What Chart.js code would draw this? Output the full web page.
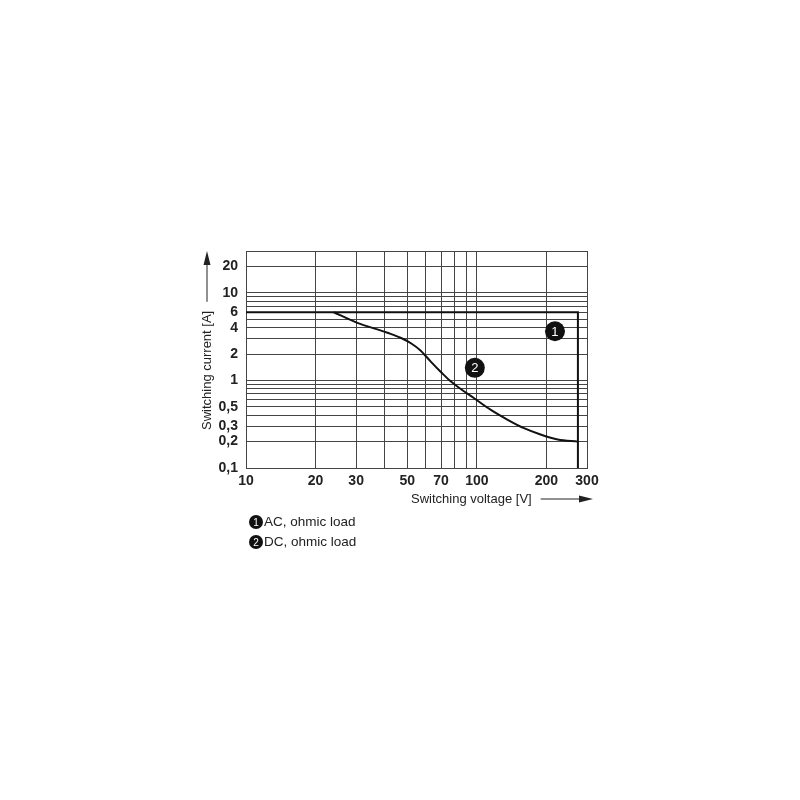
<!DOCTYPE html>
<html>

<head>
  <title>Switching current vs voltage</title>
  <script src="https://cdn.jsdelivr.net/npm/chart.js"></script>
  <style>
    body {
      margin: 0;
      background-color: #ffffff;
      font-family: "Liberation Sans", Arial, sans-serif;
    }

    #box {
      width: 800px;
      height: 800px;
    }
  </style>
</head>

<body>
  <div id="box">
    <canvas id="grafico" width="800" height="800"></canvas>
  </div>

  <script>
    // tick values (grid) and which ones get a label
    var xTicks = [10, 20, 30, 40, 50, 60, 70, 80, 90, 100, 200, 300];
    var xLabels = [10, 20, 30, 50, 70, 100, 200, 300];
    var yTicks = [0.1, 0.2, 0.3, 0.4, 0.5, 0.6, 0.7, 0.8, 0.9, 1, 2, 3, 4, 5, 6, 7, 8, 9, 10, 20, 30];
    var yLabels = [0.1, 0.2, 0.3, 0.5, 1, 2, 4, 6, 10, 20];

    // curve 1: AC, ohmic load
    var acVolt = [10, 274, 274];
    var acAmp = [6, 6, 0.1];

    // curve 2: DC, ohmic load
    var dcVolt = [24, 30, 41, 47, 52, 57, 63, 70, 77, 84, 97, 115, 136, 160, 190, 224, 274];
    var dcAmp = [6.0, 4.6, 3.5, 3.05, 2.64, 2.2, 1.65, 1.24, 0.975, 0.82, 0.63, 0.46, 0.355, 0.285, 0.24, 0.212, 0.2];

    // numbered markers
    var markNum = ["1", "2"];
    var markVolt = [218, 98];
    var markAmp = [3.64, 1.39];

    var legendText = ["AC, ohmic load", "DC, ohmic load"];

    var corGrade = "#444444";
    var fonte = '"Liberation Sans", Arial, sans-serif';

    function pontos(xs, ys) {
      var lista = [];
      for (var i = 0; i < xs.length; i++) {
        lista.push({ x: xs[i], y: ys[i] });
      }
      return lista;
    }

    function virgula(v) {
      return String(v).replace(".", ",");
    }

    function bolinha(ctx, x, y, r, txt, tam) {
      ctx.beginPath();
      ctx.arc(x, y, r, 0, Math.PI * 2);
      ctx.fillStyle = "#111111";
      ctx.fill();
      ctx.fillStyle = "#ffffff";
      ctx.font = tam + "px " + fonte;
      ctx.textAlign = "center";
      ctx.textBaseline = "middle";
      ctx.fillText(txt, x, y + 1);
    }

    var extras = {
      id: "extras",
      afterDatasetsDraw(chart) {
        var ctx = chart.ctx;
        var sx = chart.scales.x;
        var sy = chart.scales.y;
        var area = chart.chartArea;
        ctx.save();

        // numbered markers on the curves
        for (var i = 0; i < markNum.length; i++) {
          bolinha(ctx, sx.getPixelForValue(markVolt[i]), sy.getPixelForValue(markAmp[i]), 10, markNum[i], 13);
        }

        ctx.fillStyle = "#222222";
        ctx.strokeStyle = "#222222";
        ctx.lineWidth = 1;

        // x axis title + arrow
        ctx.font = "13px " + fonte;
        ctx.textAlign = "left";
        ctx.textBaseline = "middle";
        var tx = "Switching voltage [V]";
        var xt = 411;
        var yt = area.bottom + 31;
        ctx.fillText(tx, xt, yt);
        var fimTx = xt + ctx.measureText(tx).width;
        ctx.beginPath();
        ctx.moveTo(fimTx + 9, yt);
        ctx.lineTo(582, yt);
        ctx.stroke();
        ctx.beginPath();
        ctx.moveTo(593, yt);
        ctx.lineTo(579, yt - 3.5);
        ctx.lineTo(579, yt + 3.5);
        ctx.closePath();
        ctx.fill();

        // y axis title + arrow
        var ty = "Switching current [A]";
        var xa = 207;
        ctx.save();
        ctx.translate(xa, 430);
        ctx.rotate(-Math.PI / 2);
        ctx.textAlign = "left";
        ctx.fillText(ty, 0, 0);
        var larg = ctx.measureText(ty).width;
        ctx.restore();
        ctx.beginPath();
        ctx.moveTo(xa, 430 - larg - 9);
        ctx.lineTo(xa, 262);
        ctx.stroke();
        ctx.beginPath();
        ctx.moveTo(xa, 251);
        ctx.lineTo(xa - 3.5, 265);
        ctx.lineTo(xa + 3.5, 265);
        ctx.closePath();
        ctx.fill();

        // legend below the chart
        for (var j = 0; j < legendText.length; j++) {
          var ly = 522 + j * 20;
          bolinha(ctx, 256, ly, 7, markNum[j], 10);
          ctx.fillStyle = "#222222";
          ctx.font = "13.5px " + fonte;
          ctx.textAlign = "left";
          ctx.textBaseline = "middle";
          ctx.fillText(legendText[j], 264, ly);
        }

        ctx.restore();
      }
    };

    var grafico = new Chart(document.getElementById("grafico"), {
      type: "scatter",
      data: {
        datasets: [{
          label: "AC",
          data: pontos(acVolt, acAmp),
          showLine: true,
          borderColor: "#111111",
          borderWidth: 2,
          pointRadius: 0,
          tension: 0
        }, {
          label: "DC",
          data: pontos(dcVolt, dcAmp),
          showLine: true,
          borderColor: "#111111",
          borderWidth: 2,
          pointRadius: 0,
          cubicInterpolationMode: "monotone"
        }]
      },
      options: {
        responsive: false,
        animation: false,
        layout: {
          padding: { left: 190, right: 213, top: 251, bottom: 292 }
        },
        plugins: {
          legend: { display: false },
          tooltip: { enabled: false }
        },
        scales: {
          x: {
            type: "logarithmic",
            min: 10,
            max: 300,
            afterBuildTicks: function (scale) {
              scale.ticks = xTicks.map(function (v) { return { value: v }; });
            },
            afterFit: function (scale) {
              scale.height = 40;
            },
            grid: { color: corGrade, lineWidth: 1, drawTicks: false },
            border: { color: corGrade, width: 1 },
            ticks: {
              autoSkip: false,
              maxRotation: 0,
              padding: 5,
              color: "#222222",
              font: { family: fonte, size: 14, weight: "bold" },
              callback: function (v) {
                return xLabels.indexOf(v) >= 0 ? String(v) : "";
              }
            }
          },
          y: {
            type: "logarithmic",
            min: 0.1,
            max: 30,
            afterBuildTicks: function (scale) {
              scale.ticks = yTicks.map(function (v) { return { value: v }; });
            },
            afterFit: function (scale) {
              scale.width = 56;
            },
            grid: { color: corGrade, lineWidth: 1, drawTicks: false },
            border: { color: corGrade, width: 1 },
            ticks: {
              autoSkip: false,
              padding: 8,
              color: "#222222",
              font: { family: fonte, size: 14, weight: "bold" },
              callback: function (v) {
                return yLabels.indexOf(v) >= 0 ? virgula(v) : "";
              }
            }
          }
        }
      },
      plugins: [extras]
    });
  </script>
</body>

</html>
